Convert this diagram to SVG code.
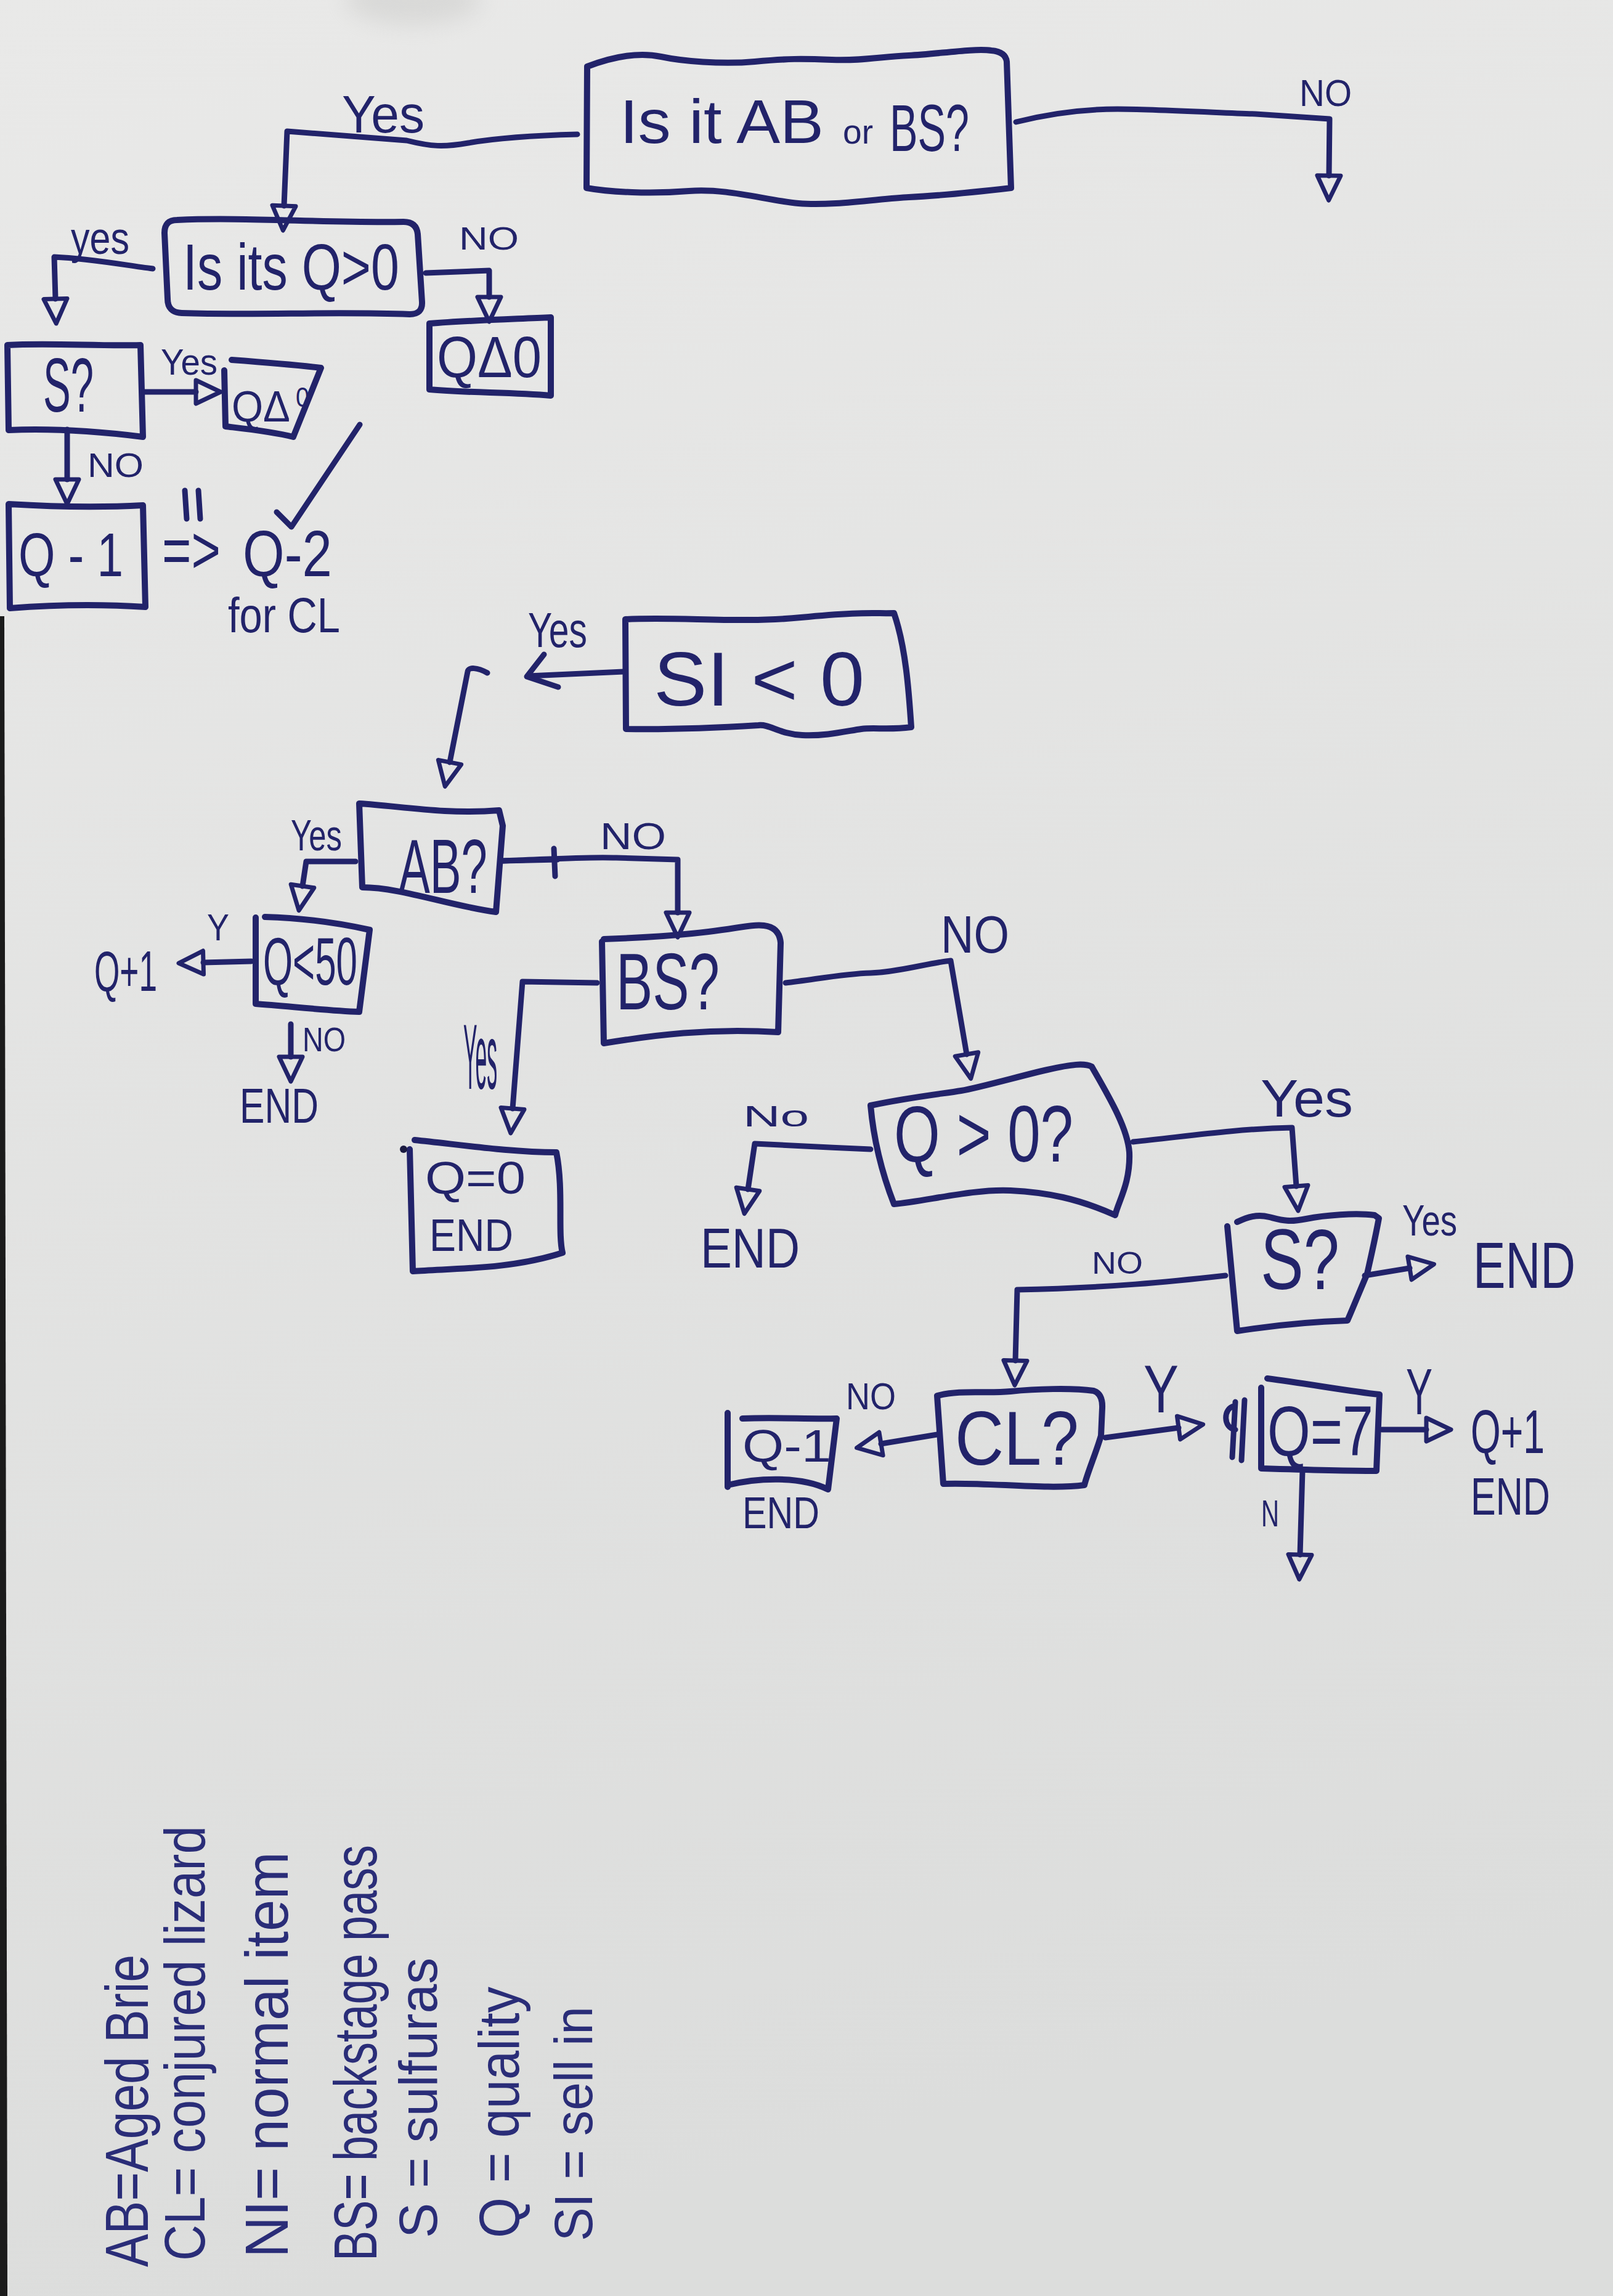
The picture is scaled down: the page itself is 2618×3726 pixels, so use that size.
<svg xmlns="http://www.w3.org/2000/svg" width="2618" height="3726" viewBox="0 0 2618 3726">
<defs>
<linearGradient id="paper" x1="0" y1="0" x2="0.2" y2="1">
<stop offset="0" stop-color="#e9e9e8"/>
<stop offset="1" stop-color="#dcdddc"/>
</linearGradient>
<filter id="blur" x="-50%" y="-50%" width="200%" height="200%"><feGaussianBlur stdDeviation="18"/></filter>
<marker id="tri" viewBox="-6 -28 54 56" refX="0" refY="0" markerWidth="54" markerHeight="56" markerUnits="userSpaceOnUse" orient="auto">
<path d="M0,-19 L40,0 L0,19 Z" fill="none" stroke="#22236a" stroke-width="7" stroke-linejoin="round"/>
</marker>
<style>
.box{fill:none;stroke:#22236a;stroke-width:10;stroke-linecap:round;stroke-linejoin:round}
.ln{fill:none;stroke:#22236a;stroke-width:9;stroke-linecap:round;stroke-linejoin:round}
.ar{fill:none;stroke:#22236a;stroke-width:9;stroke-linecap:round;stroke-linejoin:round;marker-end:url(#tri)}
.t{font-family:"Liberation Sans","DejaVu Sans",sans-serif;fill:#22236a}
.lg{font-family:"Liberation Sans","DejaVu Sans",sans-serif;fill:#2a2d78}
</style>
</defs>
<rect width="2618" height="3726" fill="url(#paper)"/>
<ellipse cx="670" cy="0" rx="110" ry="40" fill="#b5b5b3" opacity="0.3" filter="url(#blur)"/>
<path d="M0,1000 L7,1000 L12,3726 L0,3726 Z" fill="#1b1b1b"/>

<g id="connectors">
<path class="ar" d="M937,218 C860,220 800,225 760,232 S700,238 660,228 L466,213 L461,334"/>
<path class="ar" d="M1649,198 C1700,185 1760,177 1814,177 S1980,183 2038,185 L2158,193 L2157,285"/>
<path class="ar" d="M248,436 C200,430 150,420 88,417 L90,485"/>
<path class="ar" d="M691,443 L794,439 L794,482"/>
<path class="ar" d="M233,636 L318,636"/>
<path class="ar" d="M109,697 L109,778"/>
<path class="ln" d="M1012,1090 L858,1097"/>
<path class="ln" d="M883,1062 L855,1098 L906,1115"/>
<path class="ar" d="M791,1092 C775,1083 760,1082 759,1090 L730,1237"/>
<path class="ar" d="M577,1398 L497,1398 L491,1438"/>
<path class="ar" d="M816,1397 C880,1395 950,1390 1000,1392 L1100,1395 L1100,1481"/>
<path class="ln" d="M816,1397 L905,1395" stroke-width="16"/>
<path class="ln" d="M899,1377 L901,1422"/>
<path class="ar" d="M408,1560 L330,1562"/>
<path class="ar" d="M472,1662 L472,1715"/>
<path class="ar" d="M969,1595 L848,1593 L832,1799"/>
<path class="ar" d="M1275,1595 C1320,1590 1370,1580 1413,1579 S1510,1562 1543,1559 L1569,1711"/>
<path class="ar" d="M1413,1865 C1350,1862 1300,1860 1225,1856 L1214,1930"/>
<path class="ar" d="M1839,1853 C1920,1845 2000,1832 2097,1830 L2104,1925"/>
<path class="ar" d="M2215,2070 L2288,2058"/>
<path class="ar" d="M1989,2070 C1900,2080 1800,2090 1651,2093 L1648,2208"/>
<path class="ar" d="M1521,2328 L1430,2343"/>
<path class="ar" d="M1794,2333 L1913,2317"/>
<path class="ar" d="M2243,2320 L2315,2320"/>
<path class="ar" d="M2114,2387 L2110,2523"/>
<path class="ln" d="M584,689 L473,855 L449,831"/>
<path class="ln" d="M300,796 L303,842 M322,796 L325,842"/>
<path class="ln" d="M2003,2282 C1985,2285 1985,2318 2005,2320 M2005,2275 L2000,2365 M2020,2272 L2015,2370" stroke-width="11"/>
</g>

<g id="labels">
<text class="t" x="555" y="215" font-size="85" textLength="134" lengthAdjust="spacingAndGlyphs">Yes</text>
<text class="t" x="2109" y="172" font-size="62" textLength="85" lengthAdjust="spacingAndGlyphs">NO</text>
<text class="t" x="115" y="412" font-size="75" textLength="95" lengthAdjust="spacingAndGlyphs">yes</text>
<text class="t" x="745" y="405" font-size="52" textLength="97" lengthAdjust="spacingAndGlyphs">NO</text>
<text class="t" x="261" y="608" font-size="60" textLength="92" lengthAdjust="spacingAndGlyphs">Yes</text>
<text class="t" x="142" y="774" font-size="55" textLength="91" lengthAdjust="spacingAndGlyphs">NO</text>
<text class="t" x="263" y="930" font-size="110" textLength="95" lengthAdjust="spacingAndGlyphs">=&gt;</text>
<text class="t" x="394" y="935" font-size="105" textLength="145" lengthAdjust="spacingAndGlyphs">Q-2</text>
<text class="t" x="370" y="1026" font-size="80" textLength="182" lengthAdjust="spacingAndGlyphs">for CL</text>
<text class="t" x="857" y="1050" font-size="80" textLength="96" lengthAdjust="spacingAndGlyphs">Yes</text>
<text class="t" x="472" y="1380" font-size="70" textLength="83" lengthAdjust="spacingAndGlyphs">Yes</text>
<text class="t" x="974" y="1378" font-size="62" textLength="107" lengthAdjust="spacingAndGlyphs">NO</text>
<text class="t" x="336" y="1526" font-size="62" textLength="36" lengthAdjust="spacingAndGlyphs">Y</text>
<text class="t" x="153" y="1608" font-size="92" textLength="102" lengthAdjust="spacingAndGlyphs">Q+1</text>
<text class="t" x="491" y="1706" font-size="55" textLength="70" lengthAdjust="spacingAndGlyphs">NO</text>
<text class="t" x="389" y="1822" font-size="80" textLength="128" lengthAdjust="spacingAndGlyphs">END</text>
<text class="t" x="752" y="1767" font-size="150" textLength="55" lengthAdjust="spacingAndGlyphs">Yes</text>
<text class="t" x="1527" y="1546" font-size="85" textLength="111" lengthAdjust="spacingAndGlyphs">NO</text>
<text class="t" x="1206" y="1828" font-size="48" textLength="107" lengthAdjust="spacingAndGlyphs">No</text>
<text class="t" x="1137" y="2057" font-size="90" textLength="161" lengthAdjust="spacingAndGlyphs">END</text>
<text class="t" x="2046" y="1812" font-size="85" textLength="150" lengthAdjust="spacingAndGlyphs">Yes</text>
<text class="t" x="2276" y="2005" font-size="70" textLength="89" lengthAdjust="spacingAndGlyphs">Yes</text>
<text class="t" x="2391" y="2090" font-size="105" textLength="166" lengthAdjust="spacingAndGlyphs">END</text>
<text class="t" x="1772" y="2067" font-size="50" textLength="83" lengthAdjust="spacingAndGlyphs">NO</text>
<text class="t" x="1373" y="2287" font-size="62" textLength="81" lengthAdjust="spacingAndGlyphs">NO</text>
<text class="t" x="1856" y="2292" font-size="110" textLength="57" lengthAdjust="spacingAndGlyphs">Y</text>
<text class="t" x="2282" y="2295" font-size="105" textLength="43" lengthAdjust="spacingAndGlyphs">Y</text>
<text class="t" x="2387" y="2358" font-size="100" textLength="120" lengthAdjust="spacingAndGlyphs">Q+1</text>
<text class="t" x="2387" y="2458" font-size="85" textLength="129" lengthAdjust="spacingAndGlyphs">END</text>
<text class="t" x="2047" y="2477" font-size="62" textLength="29" lengthAdjust="spacingAndGlyphs">N</text>
</g>

<g id="n-ab-or-bs">
<path class="box" d="M953,108 C1000,90 1040,85 1073,92 S1170,105 1225,100 S1300,95 1350,97 S1430,92 1475,90 S1580,78 1609,82 Q1632,84 1634,100 L1641,305 C1580,312 1520,318 1475,320 S1350,335 1296,330 S1180,305 1118,310 S990,312 952,305 Z"/>
<text class="t" x="1006" y="232" font-size="100" textLength="331" lengthAdjust="spacingAndGlyphs">Is it AB</text>
<text class="t" x="1368" y="233" font-size="55" textLength="49" lengthAdjust="spacingAndGlyphs">or</text>
<text class="t" x="1444" y="245" font-size="108" textLength="129" lengthAdjust="spacingAndGlyphs">BS?</text>
</g>
<g id="n-q-gt-0">
<path class="box" d="M287,357 C400,352 520,362 655,360 Q676,360 678,380 L685,490 Q686,510 665,510 C540,505 420,512 295,508 Q272,507 272,485 L267,378 Q267,357 287,357 Z"/>
<text class="t" x="297" y="470" font-size="105" textLength="351" lengthAdjust="spacingAndGlyphs">Is its Q&gt;0</text>
</g>
<g id="n-q-delta-0">
<path class="box" d="M697,525 C760,520 830,518 894,515 L894,642 C830,636 760,638 697,632 Z"/>
<text class="t" x="709" y="612" font-size="95" textLength="170" lengthAdjust="spacingAndGlyphs">QΔ0</text>
</g>
<g id="n-s1">
<path class="box" d="M12,560 C80,556 160,562 228,560 L232,709 C160,700 80,695 14,698 Z"/>
<text class="t" x="70" y="668" font-size="125" textLength="82" lengthAdjust="spacingAndGlyphs">S?</text>
</g>
<g id="n-q-delta-0b">
<path class="box" d="M376,584 C430,588 480,592 521,597 L476,709 C440,700 400,696 366,692 L364,601"/>
<text class="t" x="376" y="684" font-size="70" textLength="95" lengthAdjust="spacingAndGlyphs">QΔ</text>
<text class="t" x="480" y="660" font-size="44" textLength="22" lengthAdjust="spacingAndGlyphs">0</text>
</g>
<g id="n-q-minus-1">
<path class="box" d="M14,818 C80,822 160,824 232,820 L236,985 C160,980 80,982 16,987 Z"/>
<text class="t" x="30" y="935" font-size="100" textLength="170" lengthAdjust="spacingAndGlyphs">Q - 1</text>
</g>
<g id="n-si-lt-0">
<path class="box" d="M1015,1005 C1100,1000 1200,1012 1300,1002 S1420,996 1451,995 C1470,1050 1475,1120 1479,1180 C1440,1185 1420,1180 1398,1183 S1340,1195 1302,1193 S1250,1175 1231,1177 C1150,1182 1080,1184 1016,1183 Z"/>
<text class="t" x="1061" y="1145" font-size="125" textLength="342" lengthAdjust="spacingAndGlyphs">SI &lt; 0</text>
</g>
<g id="n-ab">
<path class="box" d="M583,1304 C650,1308 720,1322 810,1315 L816,1340 L805,1480 C730,1470 650,1440 588,1440 L583,1304 Z"/>
<text class="t" x="647" y="1449" font-size="125" textLength="144" lengthAdjust="spacingAndGlyphs">AB?</text>
</g>
<g id="n-q-lt-50">
<path class="box" d="M430,1488 C500,1490 560,1500 600,1509 L583,1642 C530,1640 470,1633 415,1629 L415,1489"/>
<text class="t" x="427" y="1598" font-size="110" textLength="153" lengthAdjust="spacingAndGlyphs">Q&lt;50</text>
</g>
<g id="n-bs">
<path class="box" d="M980,1524 C1040,1522 1100,1518 1150,1512 S1220,1500 1240,1502 Q1265,1505 1267,1530 L1263,1675 C1150,1668 1060,1680 980,1693 L977,1528"/>
<text class="t" x="1000" y="1638" font-size="130" textLength="168" lengthAdjust="spacingAndGlyphs">BS?</text>
</g>
<g id="n-q-eq-0">
<path class="box" d="M673,1850 C750,1858 830,1870 903,1870 C915,1930 905,2000 913,2033 C830,2060 740,2058 670,2063 L665,1865"/>
<circle cx="655" cy="1865" r="6" fill="#1a1a40"/>
<text class="t" x="690" y="1937" font-size="75" textLength="163" lengthAdjust="spacingAndGlyphs">Q=0</text>
<text class="t" x="697" y="2030" font-size="75" textLength="136" lengthAdjust="spacingAndGlyphs">END</text>
</g>
<g id="n-q-gt-0b">
<path class="box" d="M1413,1794 C1480,1780 1530,1775 1560,1770 S1660,1745 1700,1736 S1760,1725 1772,1731 C1800,1780 1830,1830 1833,1870 C1835,1920 1815,1950 1810,1972 C1750,1945 1700,1935 1640,1932 S1500,1950 1451,1954 C1430,1900 1418,1850 1413,1794 Z"/>
<text class="t" x="1451" y="1885" font-size="130" textLength="291" lengthAdjust="spacingAndGlyphs">Q &gt; 0?</text>
</g>
<g id="n-s2">
<path class="box" d="M2008,1983 C2025,1975 2040,1970 2060,1975 S2090,1984 2120,1978 S2200,1968 2231,1972 L2238,1977 C2232,2010 2225,2040 2219,2067 C2205,2100 2195,2125 2187,2143 C2120,2145 2060,2152 2008,2160 L1992,1990"/>
<text class="t" x="2046" y="2092" font-size="140" textLength="128" lengthAdjust="spacingAndGlyphs">S?</text>
</g>
<g id="n-cl">
<path class="box" d="M1521,2265 C1560,2255 1600,2262 1640,2258 S1740,2252 1775,2257 Q1790,2262 1789,2285 L1787,2330 C1778,2360 1765,2390 1760,2410 C1700,2418 1600,2405 1531,2408 L1521,2265 Z"/>
<text class="t" x="1550" y="2377" font-size="125" textLength="201" lengthAdjust="spacingAndGlyphs">CL?</text>
</g>
<g id="n-q-minus-1b">
<path class="box" d="M1181,2293 L1181,2413 M1205,2302 C1260,2300 1310,2303 1358,2302 L1344,2417 C1300,2395 1230,2398 1181,2410"/>
<text class="t" x="1205" y="2372" font-size="75" textLength="144" lengthAdjust="spacingAndGlyphs">Q-1</text>
<text class="t" x="1205" y="2480" font-size="72" textLength="125" lengthAdjust="spacingAndGlyphs">END</text>
</g>
<g id="n-q-eq-7">
<path class="box" d="M2047,2252 L2047,2383 C2110,2385 2180,2387 2234,2387 L2239,2263 M2057,2237 C2120,2245 2190,2258 2239,2263"/>
<text class="t" x="2057" y="2362" font-size="115" textLength="172" lengthAdjust="spacingAndGlyphs">Q=7</text>
</g>

<g id="legend">
<text class="lg" transform="translate(240,3679) rotate(-90)" font-size="98" textLength="507" lengthAdjust="spacingAndGlyphs">AB=Aged Brie</text>
<text class="lg" transform="translate(332,3669) rotate(-90)" font-size="92" textLength="706" lengthAdjust="spacingAndGlyphs">CL= conjured lizard</text>
<text class="lg" transform="translate(467,3664) rotate(-90)" font-size="98" textLength="659" lengthAdjust="spacingAndGlyphs">NI= normal item</text>
<text class="lg" transform="translate(611,3669) rotate(-90)" font-size="98" textLength="675" lengthAdjust="spacingAndGlyphs">BS= backstage pass</text>
<text class="lg" transform="translate(709,3632) rotate(-90)" font-size="88" textLength="455" lengthAdjust="spacingAndGlyphs">S = sulfuras</text>
<text class="lg" transform="translate(842,3632) rotate(-90)" font-size="92" textLength="408" lengthAdjust="spacingAndGlyphs">Q = quality</text>
<text class="lg" transform="translate(961,3637) rotate(-90)" font-size="88" textLength="381" lengthAdjust="spacingAndGlyphs">SI = sell in</text>
</g>
</svg>
